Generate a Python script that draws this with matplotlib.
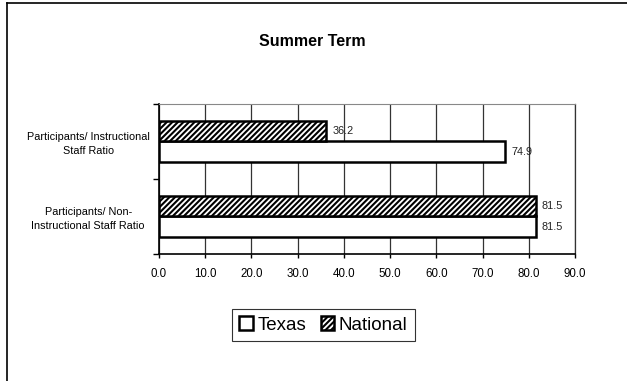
import matplotlib
matplotlib.use("Agg")
import matplotlib.pyplot as plt
import numpy as np
from matplotlib.lines import Line2D
from matplotlib.patches import Patch

plt.rcParams['font.family'] = ['Liberation Sans', 'DejaVu Sans']
plt.rcParams['hatch.linewidth'] = 1.5

categories = ["Participants/ Non-\nInstructional Staff Ratio",
              "Participants/ Instructional\nStaff Ratio"]
texas = [81.5, 74.9]
national = [81.5, 36.2]
xticks = [0, 10, 20, 30, 40, 50, 60, 70, 80, 90]
title = "Summer Term"

fig = plt.figure(figsize=(6.27, 3.81), dpi=100)
ax = fig.add_axes([159/627, 1-254/381, 416/627, 150/381])

y = np.arange(len(categories))
h = 0.27
bt = ax.barh(y - h/2, texas, height=h, color='white', edgecolor='black', linewidth=1.8, label='Texas', zorder=3)
bn = ax.barh(y + h/2, national, height=h, color='white', edgecolor='black', linewidth=1.8, hatch='//////', label='National', zorder=3)

for bars, vals in ((bt, texas), (bn, national)):
    for b, v in zip(bars, vals):
        ax.annotate(f"{v:.1f}", (b.get_width(), b.get_y() + b.get_height()/2),
                    xytext=(4.5, 0), textcoords='offset points', va='center', ha='left',
                    fontsize=7.8, color='#222222', zorder=4)

ax.set_xlim(0, 90)
ax.set_ylim(-0.5, 1.5)
ax.set_xticks(xticks)
ax.set_xticklabels([f"{v:.1f}" for v in xticks], fontsize=8.3)
ax.tick_params(axis='x', direction='out', length=3, width=1, pad=7)
ax.set_yticks([-0.5, 0.5, 1.5])
ax.set_yticklabels([])
ax.set_yticks(y, minor=True)
ax.set_yticklabels(categories, minor=True, fontsize=7.8, ha='center', multialignment='center',
                   linespacing=1.5)
ax.tick_params(axis='y', which='minor', length=0, pad=51)
ax.tick_params(axis='y', which='major', direction='out', length=4, width=1)
ax.grid(axis='x', color='#333333', linewidth=0.9, zorder=0)
for s in ('left', 'bottom'):
    ax.spines[s].set_linewidth(1.2)
    ax.spines[s].set_color('black')
ax.spines['top'].set_color('#888888')
ax.spines['right'].set_color('#333333')
ax.spines['right'].set_linewidth(0.9)

fig.text(312/627, 1-42/381, title, ha='center', va='center', fontsize=11.5, fontweight='bold')

handles = [Patch(facecolor='white', edgecolor='black', linewidth=1.8, label='Texas'),
           Patch(facecolor='white', edgecolor='black', linewidth=1.8, hatch='//////', label='National')]
leg = fig.legend(handles=handles, loc='center', bbox_to_anchor=(323.5/627, 1-325/381), ncol=2,
                 fontsize=13.5, frameon=True, fancybox=False, handlelength=0.7, handleheight=0.75,
                 handletextpad=0.25, columnspacing=0.8, borderpad=0.4, borderaxespad=0,
                 edgecolor='black')
leg.get_frame().set_linewidth(0.8)

fig.add_artist(Line2D([7/627, 7/627], [0, 1-3/381], color='black', linewidth=1.2))
fig.add_artist(Line2D([7/627, 1], [1-3/381, 1-3/381], color='black', linewidth=1.2))

fig.savefig('out.png', dpi=100)
